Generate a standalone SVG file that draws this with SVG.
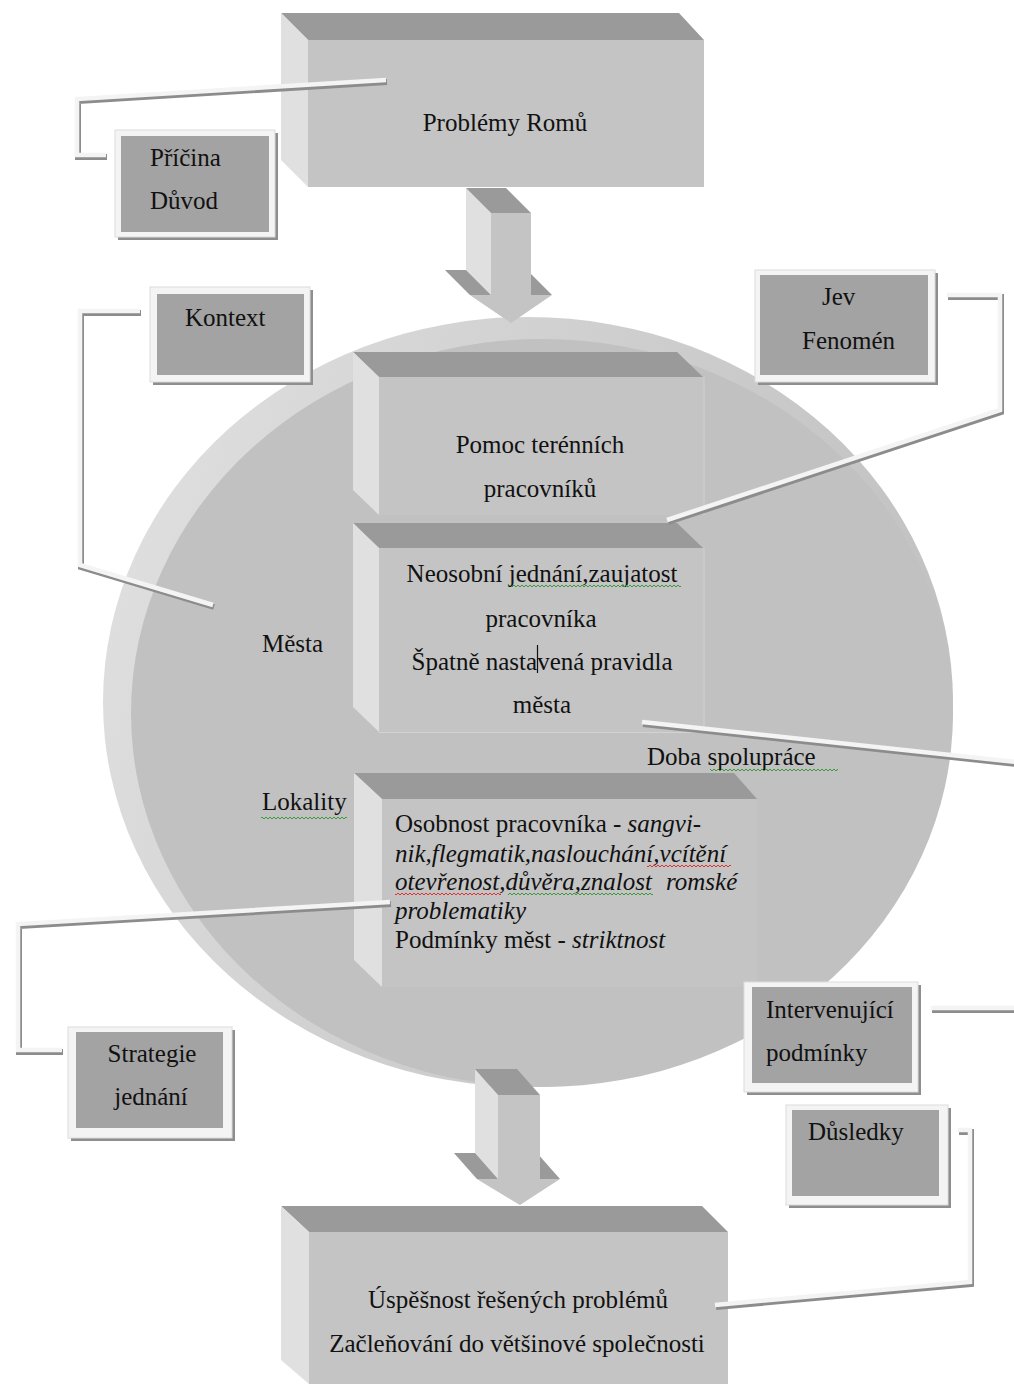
<svg xmlns="http://www.w3.org/2000/svg" width="1014" height="1384" viewBox="0 0 1014 1384">
<defs>
<linearGradient id="rim" x1="0" y1="0" x2="1" y2="0.3">
<stop offset="0" stop-color="#e2e2e2"/>
<stop offset="0.45" stop-color="#d2d2d2"/>
<stop offset="1" stop-color="#c2c2c2"/>
</linearGradient>
<style>
.t{font-family:"Liberation Serif","Times New Roman",serif;font-size:25px;fill:#111}
.c{text-anchor:middle}
.i{font-style:italic}
.top{fill:#9a9a9a}
.side{fill:#e0e0e0}
.front{fill:#c4c4c4}
.edge{fill:none;stroke:#d2d2d2;stroke-width:1}
.frame{fill:#f4f4f4;stroke:#dcdcdc;stroke-width:1}
.inner{fill:#a3a3a3}
.shadow{fill:#8e8e8e}
.cs{fill:none;stroke:#8c8c8c;stroke-width:6}
.cw{fill:none;stroke:#f4f4f4;stroke-width:4.5}
.sqg{fill:none;stroke:#3a9a3a;stroke-width:1}
.sqr{fill:none;stroke:#e03030;stroke-width:1}
</style>
<pattern id="wg" width="4" height="4" patternUnits="userSpaceOnUse"><path d="M0,3 L2,1 L4,3" fill="none" stroke="#3a9a3a" stroke-width="1"/></pattern>
<pattern id="wr" width="4" height="4" patternUnits="userSpaceOnUse"><path d="M0,3 L2,1 L4,3" fill="none" stroke="#e03030" stroke-width="1"/></pattern>
</defs>
<rect width="1014" height="1384" fill="#ffffff"/>

<g id="circle">
<ellipse cx="528" cy="702" rx="425" ry="385" fill="url(#rim)"/>
<ellipse cx="542" cy="713" rx="411" ry="374" fill="#c1c1c1"/>
<text class="t" x="262" y="652">Města</text>
<text class="t" x="262" y="810">Lokality</text>
<rect x="261" y="815" width="86" height="4" fill="url(#wg)"/>
<text class="t" x="647" y="765">Doba spolupráce</text>
<rect x="710" y="767" width="128" height="4" fill="url(#wg)"/>
</g>

<g id="box-problemy">
<polygon class="top" points="281,13 679,13 704,40 308,40"/>
<polygon class="side" points="281,13 308,40 308,187 281,160"/>
<rect class="front" x="308" y="40" width="396" height="147"/>
<text class="t c" x="505" y="131">Problémy Romů</text>
</g>

<g id="arrow-top">
<polygon class="side" points="466,188 491,213 491,295 466,270"/>
<polygon fill="#d6d6d6" points="445,270 470,295 511,323 486,298"/>
<polygon class="top" points="466,188 506,188 531,213 491,213"/>
<polygon class="top" points="445,270 466,270 491,295 470,295"/>
<polygon class="top" points="506,270 527,270 552,295 531,295"/>
<polygon class="front" points="491,213 531,213 531,295 552,295 511,323 470,295 491,295"/>
</g>

<g id="box-pomoc">
<polygon class="top" points="353,352 677,352 703,377 379,377"/>
<polygon class="side" points="353,352 379,377 379,515 353,490"/>
<rect class="front" x="379" y="377" width="324" height="138"/>
<line class="edge" x1="704" y1="377" x2="704" y2="515"/>
<text class="t c" x="540" y="453">Pomoc terénních</text>
<text class="t c" x="540" y="497">pracovníků</text>
</g>

<g id="box-neosobni">
<polygon class="top" points="353,523 677,523 703,548 379,548"/>
<polygon class="side" points="353,523 379,548 379,732 353,707"/>
<rect class="front" x="379" y="548" width="324" height="184"/>
<line class="edge" x1="704" y1="548" x2="704" y2="732"/>
<line class="edge" x1="379" y1="732.5" x2="704" y2="732.5"/>
<text class="t c" x="542" y="582">Neosobní jednání,zaujatost</text>
<rect x="508" y="584" width="173" height="4" fill="url(#wg)"/>
<text class="t c" x="541" y="627">pracovníka</text>
<text class="t c" x="542" y="670">Špatně nastavená pravidla</text>
<line x1="537.5" y1="645" x2="537.5" y2="673" stroke="#111" stroke-width="1.2"/>
<text class="t c" x="542" y="713">města</text>
</g>

<g id="box-osobnost">
<polygon class="top" points="354,773 734,773 757,799 382,799"/>
<polygon class="side" points="354,773 382,799 382,987 354,960"/>
<rect class="front" x="382" y="799" width="375" height="188"/>
<text class="t" x="395" y="832">Osobnost pracovníka - <tspan class="i">sangvi-</tspan></text>
<text class="t i" x="395" y="862">nik,flegmatik,naslouchání,vcítění</text>
<rect x="647" y="864" width="84" height="4" fill="url(#wr)"/>
<text class="t i" x="395" y="890">otevřenost,důvěra,znalost</text>
<text class="t i" x="666" y="890">romské</text>
<rect x="395" y="892" width="106" height="4" fill="url(#wr)"/>
<rect x="508" y="892" width="145" height="4" fill="url(#wg)"/>
<text class="t i" x="395" y="919">problematiky</text>
<text class="t" x="395" y="948">Podmínky měst - <tspan class="i">striktnost</tspan></text>
</g>

<g id="arrow-bottom">
<polygon class="side" points="475,1069 498,1095 498,1179 475,1153"/>
<polygon fill="#d6d6d6" points="454,1153 477,1179 520,1205 497,1179"/>
<polygon class="top" points="475,1069 517,1069 540,1095 498,1095"/>
<polygon class="top" points="454,1153 475,1153 498,1179 477,1179"/>
<polygon class="top" points="517,1153 537,1153 560,1179 540,1179"/>
<polygon class="front" points="498,1095 540,1095 540,1179 560,1179 520,1205 477,1179 498,1179"/>
</g>

<g id="box-uspesnost">
<polygon class="top" points="281,1206 702,1206 728,1232 309,1232"/>
<polygon class="side" points="281,1206 309,1232 309,1384 281,1360"/>
<rect class="front" x="309" y="1232" width="419" height="152"/>
<text class="t c" x="518" y="1308">Úspěšnost řešených problémů</text>
<text class="t c" x="517" y="1352">Začleňování do většinové společnosti</text>
</g>

<g id="label-pricina">
<rect class="shadow" x="118" y="133" width="160" height="107"/>
<rect class="frame" x="115" y="130" width="160" height="107"/>
<rect class="inner" x="121" y="136" width="148" height="96"/>
<text class="t" x="150" y="166">Příčina</text>
<text class="t" x="150" y="209">Důvod</text>
</g>

<g id="label-kontext">
<rect class="shadow" x="153" y="290" width="160" height="95"/>
<rect class="frame" x="150" y="287" width="160" height="95"/>
<rect class="inner" x="157" y="294" width="147" height="81"/>
<text class="t" x="185" y="326">Kontext</text>
</g>

<g id="label-jev">
<rect class="shadow" x="758" y="273" width="180" height="112"/>
<rect class="frame" x="755" y="270" width="180" height="112"/>
<rect class="inner" x="760" y="275" width="168" height="100"/>
<text class="t" x="822" y="305">Jev</text>
<text class="t" x="802" y="349">Fenomén</text>
</g>

<g id="label-intervenujici">
<rect class="shadow" x="747" y="985" width="174" height="110"/>
<rect class="frame" x="744" y="982" width="174" height="110"/>
<rect class="inner" x="752" y="987" width="160" height="96"/>
<text class="t" x="766" y="1018">Intervenující</text>
<text class="t" x="766" y="1061">podmínky</text>
</g>

<g id="label-dusledky">
<rect class="shadow" x="789" y="1108" width="162" height="100"/>
<rect class="frame" x="786" y="1105" width="162" height="100"/>
<rect class="inner" x="792" y="1110" width="147" height="86"/>
<text class="t" x="808" y="1140">Důsledky</text>
</g>

<g id="label-strategie">
<rect class="shadow" x="71" y="1030" width="164" height="111"/>
<rect class="frame" x="68" y="1027" width="164" height="111"/>
<rect class="inner" x="76" y="1032" width="147" height="96"/>
<text class="t c" x="152" y="1062">Strategie</text>
<text class="t c" x="151" y="1105">jednání</text>
</g>

<g id="connectors">
<g transform="translate(1,2)">
<path class="cs" d="M386,80 L77,99 L77,155 L106,155"/>
<path class="cs" d="M140,311 L80,311 L80,565 L213,605"/>
<path class="cs" d="M947,295 L1000,295 L1000,410 L667,520"/>
<path class="cs" d="M642,722 L1016,762"/>
<path class="cs" d="M390,902 L18,924 L18,1050 L62,1050"/>
<path class="cs" d="M931,1008 L1016,1008"/>
<path class="cs" d="M958,1130 L970,1130 L970,1282 L715,1305"/>
</g>
<path class="cw" d="M386,80 L77,99 L77,155 L106,155"/>
<path class="cw" d="M140,311 L80,311 L80,565 L213,605"/>
<path class="cw" d="M947,295 L1000,295 L1000,410 L667,520"/>
<path class="cw" d="M642,722 L1016,762"/>
<path class="cw" d="M390,902 L18,924 L18,1050 L62,1050"/>
<path class="cw" d="M931,1008 L1016,1008"/>
<path class="cw" d="M958,1130 L970,1130 L970,1282 L715,1305"/>
</g>
</svg>
